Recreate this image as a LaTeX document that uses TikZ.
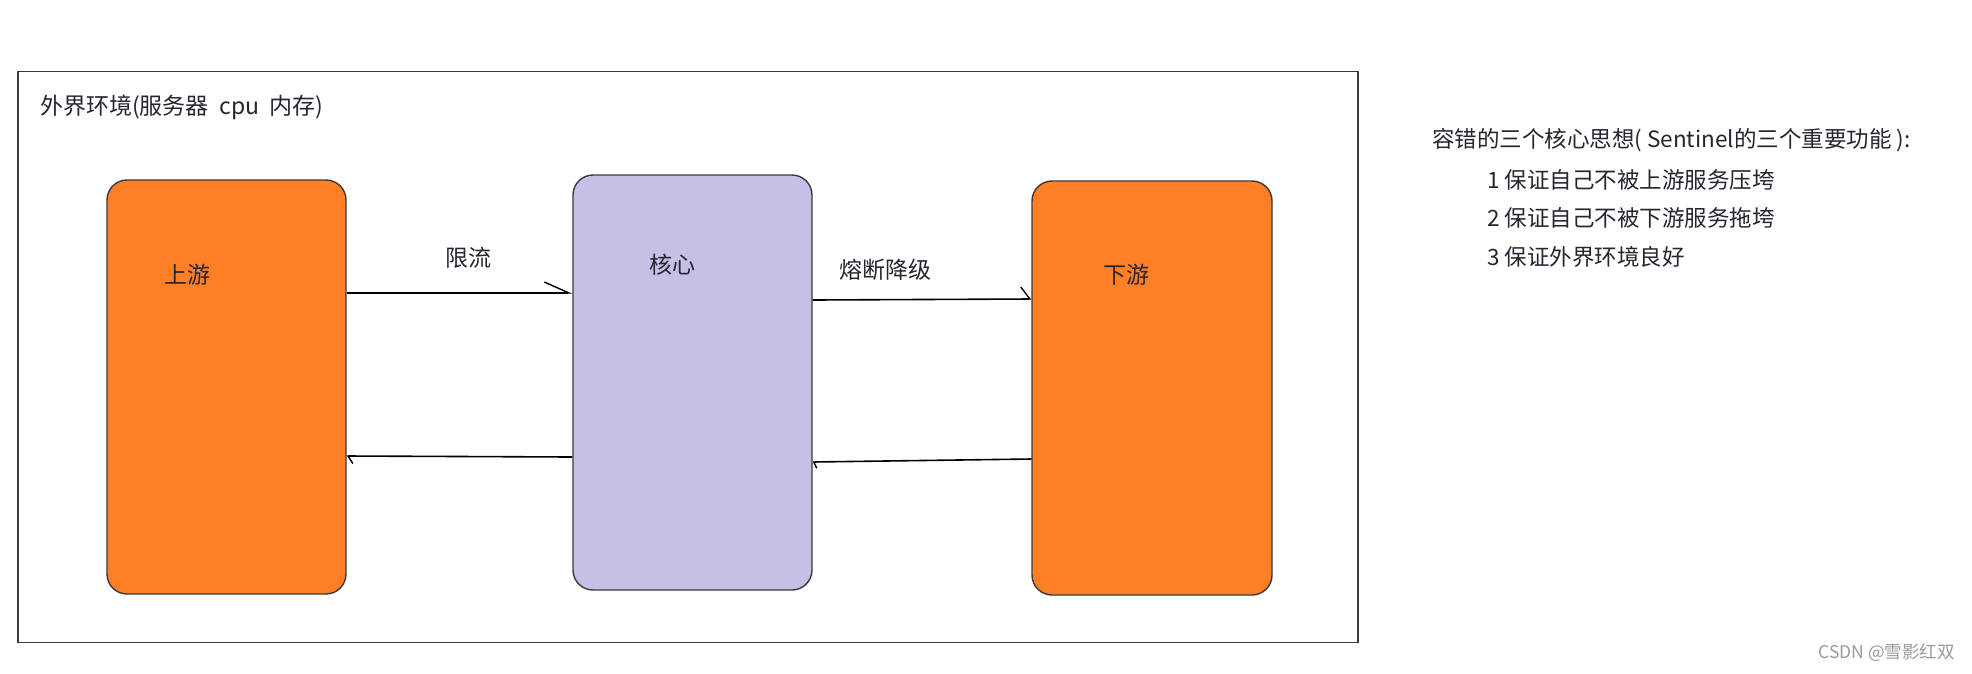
\documentclass[tikz,border=0pt]{standalone}
\usepackage{fontspec}
\setmainfont{Noto Sans CJK SC}
\usetikzlibrary{arrows.meta}
\definecolor{boxorange}{HTML}{FF7F27}
\definecolor{corepurple}{HTML}{C8BFE7}
\definecolor{edgegray}{HTML}{3A3A3A}
\definecolor{textdark}{HTML}{262630}
\definecolor{wmgray}{HTML}{9A9A9A}
\begin{document}
\begin{tikzpicture}[x=1pt,y=-1pt,
  outerframe/.style={draw=edgegray, line width=1.8pt},
  rbox/.style={draw=edgegray, line width=1.4pt, rounded corners=20pt, inner sep=0pt},
  orangebox/.style={rbox, fill=boxorange},
  purplebox/.style={rbox, fill=corepurple},
  lbl/.style={text=textdark, font=\fontsize{23}{27}\selectfont, inner sep=0pt},
  note/.style={text=textdark, font=\fontsize{22.5}{27}\selectfont, inner sep=0pt, anchor=west},
  conn/.style={line width=1.6pt, black}
]
\useasboundingbox (0,0) rectangle (1972,673);
\fill[white] (0,0) rectangle (1972,673);

% outer frame
\node[outerframe, minimum width=1340pt, minimum height=571pt, inner sep=0pt] (env) at (688,357) {};
\node[lbl, anchor=west] (envlbl) at (40,107) {外界环境(服务器\ \ cpu\ \ 内存)};

% boxes
\node[orangebox, minimum width=239pt, minimum height=414pt] (up) at (226.5,387) {};
\node[purplebox, minimum width=239pt, minimum height=415pt] (core) at (692.5,382.5) {};
\node[orangebox, minimum width=240pt, minimum height=414pt] (down) at (1152,388) {};

\node[lbl] (uplbl) at (187,275) {上游};
\node[lbl] (corelbl) at (672,265) {核心};
\node[lbl] (downlbl) at (1126,275) {下游};

% connectors
\draw[conn, -{Straight Barb[harpoon, angle=48:27pt, line width=1.4pt]}] (up.east |- 0,293) -- (core.west |- 0,293);
\draw[conn, -{Straight Barb[harpoon, angle=106:15pt, line width=1.4pt]}] (core.east |- 0,300) -- (down.west |- 0,299);
\draw[conn, -{Straight Barb[harpoon, angle=132:7pt, line width=1.4pt]}] (down.west |- 0,459) -- (core.east |- 0,462);
\draw[conn, -{Straight Barb[harpoon, angle=114:9pt, line width=1.4pt]}] (core.west |- 0,457) -- (up.east |- 0,456);

\node[lbl] (xianliu) at (468,258) {限流};
\node[lbl] (rongduan) at (885,270) {熔断降级};

% notes
\node[note] (n0) at (1432,140) {容错的三个核心思想( Sentinel的三个重要功能 ):};
\node[note] (n1) at (1487,180) {1 保证自己不被上游服务压垮};
\node[note] (n2) at (1487,218) {2 保证自己不被下游服务拖垮};
\node[note] (n3) at (1487,257) {3 保证外界环境良好};

\node[anchor=east, inner sep=0pt, text=wmgray, font=\fontsize{17.5}{21}\selectfont] (wm) at (1955,653) {CSDN @雪影红双};
\end{tikzpicture}
\end{document}
